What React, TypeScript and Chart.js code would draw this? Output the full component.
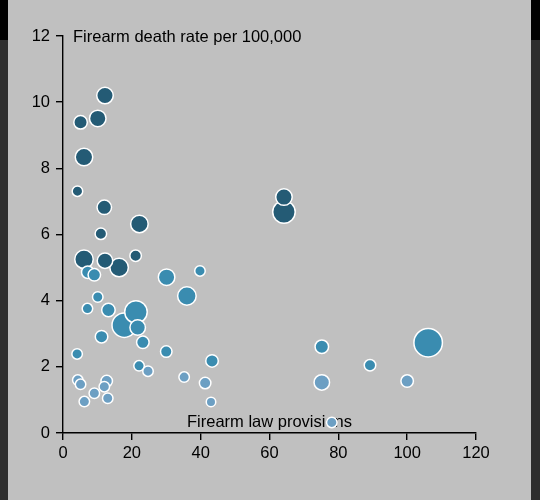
import { useEffect, useRef } from "react";
import { Chart, registerables } from "chart.js";

Chart.register(...registerables);

// Firearm law provisions (x)
const provisions = [
  12.2, 10.1, 5.1, 6.1, 4.2, 12.0, 22.2, 11.0, 6.1, 12.2, 16.3, 21.1, 64.2, 64.2,
  7.2, 9.1, 30.1, 39.8, 36.0, 10.1, 7.1, 13.2, 21.2, 17.8, 21.7, 11.2, 23.2, 30.0,
  4.1, 22.1, 43.3, 75.2, 89.2, 106.1,
  24.7, 35.2, 41.3, 43.0, 4.3, 5.1, 9.1, 6.2, 12.0, 12.7, 13.0, 75.2, 100.0, 78.1,
];

// Firearm death rate per 100,000 (y)
const deathRate = [
  10.2, 9.51, 9.39, 8.34, 7.31, 6.82, 6.32, 6.02, 5.25, 5.21, 5.0, 5.36, 7.13, 6.68,
  4.86, 4.78, 4.71, 4.9, 4.14, 4.11, 3.76, 3.72, 3.66, 3.26, 3.19, 2.91, 2.74, 2.46,
  2.39, 2.03, 2.18, 2.61, 2.05, 2.73,
  1.87, 1.69, 1.51, 0.94, 1.6, 1.47, 1.2, 0.95, 1.4, 1.57, 1.05, 1.53, 1.57, 0.32,
];

// Bubble size (visible radius)
const bubbleSize = [
  9, 9, 7.5, 9.5, 6, 8, 9.5, 6.5, 10, 8.5, 10, 6.5, 9, 12,
  7, 7, 9, 6, 10, 6, 6, 7.5, 12, 13, 8.5, 7, 7, 6.5,
  6, 6, 7, 7.5, 6.5, 15,
  6, 6, 6.5, 5.5, 6, 6, 6, 6, 6, 6.5, 6, 8.5, 7, 6,
];

const xTicks = [0, 20, 40, 60, 80, 100, 120];
const yTicks = [0, 2, 4, 6, 8, 10, 12];

const yTitle = "Firearm death rate per 100,000";
const xTitle = "Firearm law provisions";

const DARK = "#245b75";
const MEDIUM = "#3a8cb0";
const LIGHT = "#6c9fc3";
const FONT = "'Liberation Sans', Arial, Helvetica, sans-serif";

function colorFor(v: number) {
  if (v >= 4.95) return DARK;
  if (v >= 2) return MEDIUM;
  return LIGHT;
}

export default function App() {
  const ref = useRef<HTMLCanvasElement | null>(null);

  useEffect(() => {
    if (!ref.current) return;
    const order = provisions
      .map((_, i) => i)
      .sort((a, b) => bubbleSize[b] - bubbleSize[a]);
    const points = order.map((i) => ({
      x: provisions[i],
      y: deathRate[i],
      r: bubbleSize[i] - 0.75,
    }));
    const colors = order.map((i) => colorFor(deathRate[i]));

    const titles = {
      id: "axisTitles",
      beforeDatasetsDraw(chart: any) {
        const ctx = chart.ctx;
        const xs = chart.scales.x;
        const ys = chart.scales.y;
        ctx.save();
        ctx.fillStyle = "#000";
        ctx.font = `16.5px ${FONT}`;
        ctx.textAlign = "left";
        ctx.textBaseline = "middle";
        ctx.fillText(yTitle, xs.getPixelForValue(0) + 10, ys.getPixelForValue(12) + 1);
        ctx.textAlign = "center";
        ctx.textBaseline = "alphabetic";
        ctx.fillText(xTitle, xs.getPixelForValue(60), ys.getPixelForValue(0) - 6);
        ctx.restore();
      },
    };

    const chart = new Chart(ref.current, {
      type: "bubble",
      data: {
        datasets: [
          {
            data: points,
            backgroundColor: colors,
            borderColor: "#ffffff",
            borderWidth: 1.5,
            hoverBorderWidth: 1.5,
          } as any,
        ],
      },
      options: {
        animation: false,
        responsive: true,
        maintainAspectRatio: false,
        layout: { padding: { top: 36, right: 55, left: 0, bottom: 0 } },
        plugins: {
          legend: { display: false },
          tooltip: { enabled: false },
        },
        events: [],
        scales: {
          x: {
            type: "linear",
            min: 0,
            max: 120,
            afterFit: (s: any) => {
              s.height = 67;
            },
            afterBuildTicks: (s: any) => {
              s.ticks = xTicks.map((v) => ({ value: v }));
            },
            ticks: {
              color: "#000",
              padding: 4,
              maxRotation: 0,
              font: { family: FONT, size: 16.5 },
            },
            grid: {
              drawOnChartArea: false,
              drawTicks: true,
              tickLength: 7,
              color: "#000",
              lineWidth: 1.4,
            },
            border: { display: true, color: "#000", width: 1.4 },
          },
          y: {
            type: "linear",
            min: 0,
            max: 12,
            afterFit: (s: any) => {
              s.width = 55;
            },
            afterBuildTicks: (s: any) => {
              s.ticks = yTicks.map((v) => ({ value: v }));
            },
            ticks: {
              color: "#000",
              padding: 6,
              font: { family: FONT, size: 16.5 },
            },
            grid: {
              drawOnChartArea: false,
              drawTicks: true,
              tickLength: 7,
              color: "#000",
              lineWidth: 1.4,
            },
            border: { display: true, color: "#000", width: 1.4 },
          },
        },
      } as any,
      plugins: [titles],
    });
    return () => chart.destroy();
  }, []);

  return (
    <div
      style={{
        position: "fixed",
        inset: 0,
        background: "linear-gradient(#000 0px, #000 40px, #2e2e2e 40px)",
      }}
    >
      <div
        style={{
          position: "absolute",
          left: 8,
          top: 0,
          width: 523,
          height: 500,
          background: "#c0c0c0",
        }}
      >
        <canvas ref={ref} />
      </div>
    </div>
  );
}
